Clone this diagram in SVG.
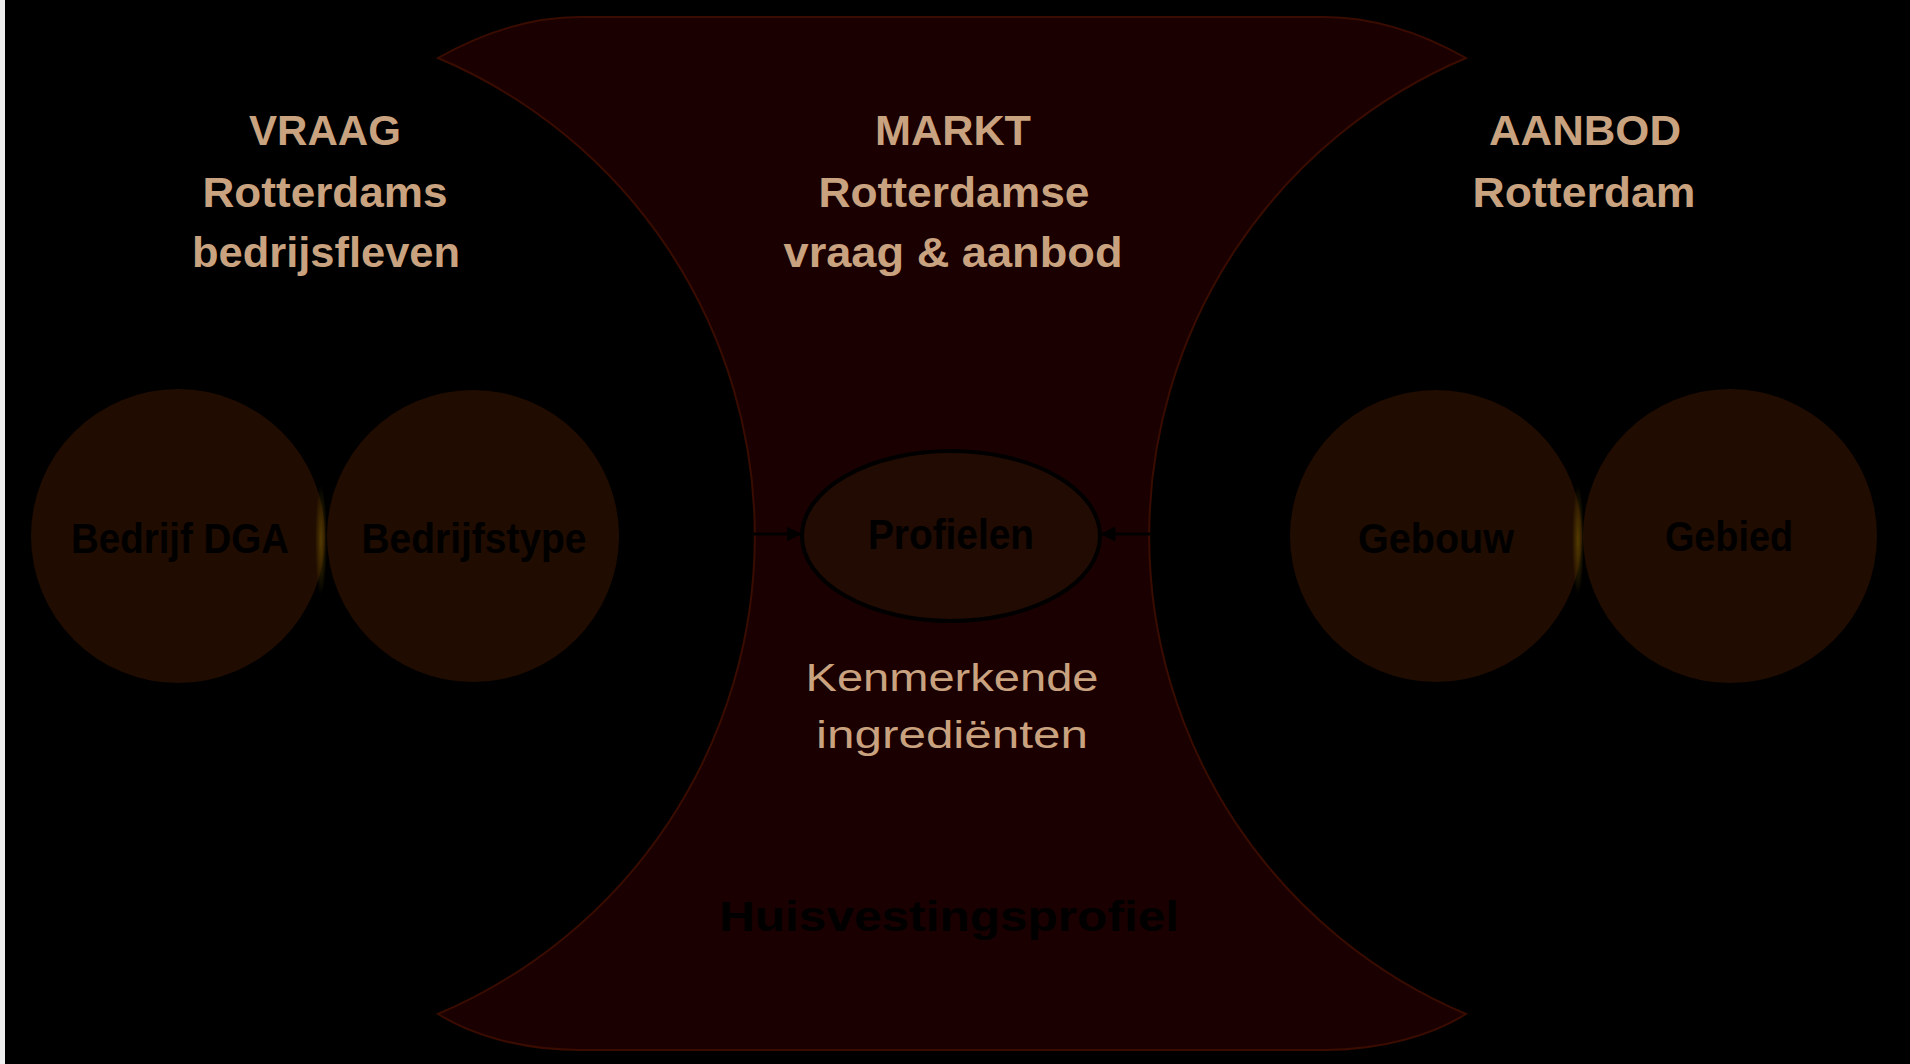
<svg xmlns="http://www.w3.org/2000/svg" width="1910" height="1064" viewBox="0 0 1910 1064">
<style>
.head{font-family:"Liberation Sans",Arial,sans-serif;font-weight:bold;font-size:43px;fill:#c9a27f;text-anchor:middle}
.dark{font-family:"Liberation Sans",Arial,sans-serif;font-weight:bold;font-size:43px;fill:#000;text-anchor:middle}
.reg{font-family:"Liberation Sans",Arial,sans-serif;font-size:38px;fill:#c9a27f;text-anchor:middle}
.circ{fill:#200c00}
.conn{stroke:#000;stroke-width:3;fill:none}
</style>
<defs>
<marker id="ah" viewBox="0 0 10 10" refX="9" refY="5" markerWidth="5" markerHeight="5" orient="auto" markerUnits="strokeWidth">
<path d="M0,0 L10,5 L0,10 z" fill="#000"/>
</marker>
<radialGradient id="glow" cx="0.5" cy="0.5" r="0.5">
<stop offset="0" stop-color="#6a5000" stop-opacity="0.7"/>
<stop offset="1" stop-color="#6a5000" stop-opacity="0"/>
</radialGradient>
</defs>
<rect x="0" y="0" width="1910" height="1064" fill="#000"/>
<rect x="0" y="0" width="5" height="1064" fill="#eeeeee"/>
<g id="markt-area">
<path d="M438 58 C470 40 520 17 580 17 L1324 17 C1384 17 1434 40 1466 58 A519 519 0 0 0 1466 1014 C1434 1034 1384 1050 1324 1050 L580 1050 C520 1050 470 1034 438 1014 A519 519 0 0 0 438 58 Z" fill="#1a0000" stroke="#3a0c00" stroke-width="2"/>
</g>
<g id="titles">
<text class="head" x="325" y="145" textLength="152" lengthAdjust="spacingAndGlyphs">VRAAG</text>
<text class="head" x="325" y="207" textLength="245" lengthAdjust="spacingAndGlyphs">Rotterdams</text>
<text class="head" x="326" y="267" textLength="268" lengthAdjust="spacingAndGlyphs">bedrijsfleven</text>
<text class="head" x="953" y="145" textLength="156" lengthAdjust="spacingAndGlyphs">MARKT</text>
<text class="head" x="954" y="207" textLength="271" lengthAdjust="spacingAndGlyphs">Rotterdamse</text>
<text class="head" x="953" y="267" textLength="339" lengthAdjust="spacingAndGlyphs">vraag &amp; aanbod</text>
<text class="head" x="1585" y="145" textLength="192" lengthAdjust="spacingAndGlyphs">AANBOD</text>
<text class="head" x="1584" y="207" textLength="223" lengthAdjust="spacingAndGlyphs">Rotterdam</text>
</g>
<g id="bedrijf-dga">
<circle class="circ" cx="178" cy="536" r="147"/>
<text class="dark" x="180" y="553" textLength="218" lengthAdjust="spacingAndGlyphs">Bedrijf DGA</text>
</g>
<g id="bedrijfstype">
<circle class="circ" cx="473" cy="536" r="146"/>
<text class="dark" x="474" y="553" textLength="225" lengthAdjust="spacingAndGlyphs">Bedrijfstype</text>
</g>
<g id="gebouw">
<circle class="circ" cx="1436" cy="536" r="146"/>
<text class="dark" x="1436" y="553" textLength="156" lengthAdjust="spacingAndGlyphs">Gebouw</text>
</g>
<g id="gebied">
<circle class="circ" cx="1730" cy="536" r="147"/>
<text class="dark" x="1729" y="551" textLength="128" lengthAdjust="spacingAndGlyphs">Gebied</text>
</g>
<g id="glows">
<ellipse cx="321" cy="540" rx="6" ry="55" fill="url(#glow)"/>
<ellipse cx="1578" cy="540" rx="6" ry="55" fill="url(#glow)"/>
</g>
<g id="profielen">
<ellipse cx="951" cy="536" rx="149" ry="85" fill="#210b03" stroke="#000" stroke-width="4"/>
<text class="dark" x="951" y="549" textLength="166" lengthAdjust="spacingAndGlyphs">Profielen</text>
</g>
<g id="connectors">
<line class="conn" x1="752" y1="534" x2="800" y2="534" marker-end="url(#ah)"/>
<line class="conn" x1="1150" y1="534" x2="1102" y2="534" marker-end="url(#ah)"/>
</g>
<g id="kenmerkende">
<text class="reg" x="952" y="691" textLength="293" lengthAdjust="spacingAndGlyphs">Kenmerkende</text>
<text class="reg" x="952" y="748" textLength="272" lengthAdjust="spacingAndGlyphs">ingrediënten</text>
</g>
<g id="huisvestingsprofiel">
<text class="dark" x="949" y="931" font-size="60" textLength="460" lengthAdjust="spacingAndGlyphs">Huisvestingsprofiel</text>
</g>
</svg>
